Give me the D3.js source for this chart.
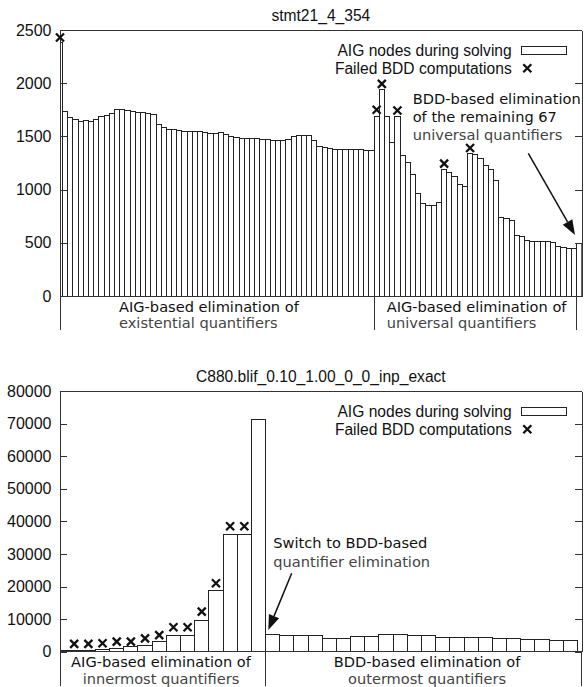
<!DOCTYPE html>
<html><head><meta charset="utf-8">
<script src="https://cdn.jsdelivr.net/npm/d3@7"></script>
<style>
body{margin:0;background:#fff}
svg{display:block}
</style></head><body>
<svg id="chart" width="585" height="687"></svg>
<script>
// ---------------- DATA ----------------
const topTitle = "stmt21_4_354";
const topExistential = [2380,
 1731,1681,1656,1640,1647,1640,1656,1690,1697,1719,
 1750,1750,1741,1734,1728,1722,1719,1706,1609,1581,
 1569,1562,1553,1545,1542,1545,1547,1541,1531,1531,
 1534,1516,1503,1494,1484,1484,1481,1478,1472,1469,
 1466,1463,1463,1475,1503,1509,1513,1506,1459,1403,
 1391,1384,1381,1380,1378,1378,1375,1375,1372,1372];
const topUniversal = [1687,1937,1687,1447,1687,1325,1255,1143,962,865,
 855,848,878,1190,1160,1122,1050,1025,1338,1328,
 1294,1230,1188,1088,736,726,706,572,556,522,
 516,513,513,509,503,463,456,447,445];
const topBdd = [494];
const topFailIdx = [0, 61, 62, 65, 74, 79];
const topFailVal = [2430, 1750, 1994, 1744, 1244, 1391];
const topTicks = [0, 500, 1000, 1500, 2000, 2500];
const topPhaseLabels = [["AIG-based elimination of", "existential quantifiers"],
                        ["AIG-based elimination of", "universal quantifiers"], null];
const topNote = ["BDD-based elimination", "of the remaining 67", "universal quantifiers"];

const botTitle = "C880.blif_0.10_1.00_0_0_inp_exact";
const botInnermost = [300,400,500,700,1000,1500,2000,3000,5100,5100,9700,18900,36100,36100,71300];
const botOutermost = [5200,5100,5100,5100,3900,3900,4800,4800,5400,5400,5000,5000,
                      4300,4300,4400,4400,4100,4100,3600,3600,3300,3300];
const botFailIdx = [1,2,3,4,5,6,7,8,9,10,11,12,13];
const botFailVal = [2400,2400,2600,3100,3100,4100,5100,7500,7500,12300,21000,38500,38500];
const botTicks = [0,10000,20000,30000,40000,50000,60000,70000,80000];
const botPhaseLabels = [["AIG-based elimination of", "innermost quantifiers"],
                        ["BDD-based elimination of", "outermost quantifiers"]];
const botNote = ["Switch to BDD-based", "quantifier elimination"];

const legendLabels = ["AIG nodes during solving", "Failed BDD computations"];

// ---------------- DRAWING ----------------
const svg = d3.select("#chart");
const SANS = "'Liberation Sans', Arial, sans-serif";
const DEJ = "'DejaVu Sans', sans-serif";

function xMark(g, cx, cy, r) {
  g.append("path")
    .attr("d", `M${cx-r},${cy-r}L${cx+r},${cy+r}M${cx-r},${cy+r}L${cx+r},${cy-r}`)
    .attr("stroke", "#111").attr("stroke-width", 2.3).attr("fill", "none");
}

function arrow(g, x1, y1, x2, y2) {
  const dx = x2 - x1, dy = y2 - y1, L = Math.hypot(dx, dy);
  const ux = dx / L, uy = dy / L, hl = 15, hw = 5.5;
  const bx = x2 - ux * hl, by = y2 - uy * hl;
  g.append("line").attr("x1", x1).attr("y1", y1).attr("x2", bx).attr("y2", by)
    .attr("stroke", "#111").attr("stroke-width", 1.5);
  g.append("path")
    .attr("d", `M${x2},${y2}L${bx - uy*hw},${by + ux*hw}L${bx + uy*hw},${by - ux*hw}Z`)
    .attr("fill", "#111");
}

function lines(g, arr, x, y0, dy, anchor, colors) {
  arr.forEach((t, i) => {
    g.append("text").attr("x", x).attr("y", y0 + i * dy)
      .attr("text-anchor", anchor)
      .attr("font-family", DEJ).attr("font-size", 14.6)
      .attr("fill", colors[i]).text(t);
  });
}

function panel(p) {
  const g = svg.append("g");
  const values = p.phases.flatMap(ph => ph);
  const x = d3.scaleLinear().domain([0, p.xMax]).range([p.left, p.right]);
  const y = d3.scaleLinear().domain([0, p.yMax]).range([p.bottom, p.top]);
  const bw = x(1) - x(0);

  svg.append("clipPath").attr("id", "clip" + p.id).append("rect")
    .attr("x", p.left).attr("y", p.top)
    .attr("width", p.right - p.left).attr("height", p.bottom - p.top);

  // bars
  g.append("g").attr("clip-path", `url(#clip${p.id})`)
    .selectAll("rect").data(values).join("rect")
    .attr("x", (d, i) => x(i - 0.5)).attr("width", bw)
    .attr("y", d => y(d)).attr("height", d => y(0) - y(d))
    .attr("fill", "#fff").attr("stroke", "#222").attr("stroke-width", 1)
    .attr("shape-rendering", "crispEdges");

  // axes (ticks inward, mirrored on right)
  const la = g.append("g").attr("transform", `translate(${p.left},0)`)
    .call(d3.axisLeft(y).tickValues(p.ticks).tickFormat(d3.format("d"))
      .tickSizeInner(-7).tickSizeOuter(0).tickPadding(8.5));
  la.selectAll("text").attr("font-family", SANS).attr("font-size", 16).attr("fill", "#111");
  const ra = g.append("g").attr("transform", `translate(${p.right},0)`)
    .call(d3.axisRight(y).tickValues(p.ticks).tickSizeInner(-7).tickSizeOuter(0).tickFormat(""));
  [la, ra].forEach(a => {
    a.selectAll("line,path").attr("stroke", "#333").attr("shape-rendering", "crispEdges");
  });
  g.append("line").attr("x1", p.left).attr("x2", p.right).attr("y1", p.top).attr("y2", p.top)
    .attr("stroke", "#333").attr("shape-rendering", "crispEdges");
  g.append("line").attr("x1", p.left).attr("x2", p.right).attr("y1", p.bottom).attr("y2", p.bottom)
    .attr("stroke", "#333").attr("shape-rendering", "crispEdges");

  // title
  g.append("text").attr("x", (p.left + p.right) / 2).attr("y", p.top - 9.5)
    .attr("text-anchor", "middle").attr("font-family", SANS).attr("font-size", 15.6)
    .attr("fill", "#111").text(p.title);

  // failure markers
  p.failIdx.forEach((fi, k) => xMark(g, x(fi), y(p.failVal[k]), 4));

  // phase dividers and labels
  let start = 0;
  p.phases.forEach((ph, k) => {
    const end = start + ph.length - 1;
    const lab = p.labels[k];
    if (lab) {
      const xs = Math.max(p.left, x(start - 0.5));
      const xe = k === p.phases.length - 1 ? p.right : x(end + 0.5);
      [xs, xe].forEach(xx => {
        g.append("line").attr("x1", xx).attr("x2", xx)
          .attr("y1", p.bottom).attr("y2", p.bottom + p.divLen)
          .attr("stroke", "#333").attr("shape-rendering", "crispEdges");
      });
      const lp = p.labelPos[k];
      lines(g, lab, lp[0], p.bottom + 15.7, 16.6, lp[1], ["#111", "#444"]);
    }
    start = end + 1;
  });

  // legend
  const lx = 511.7, ly = p.top + 25.5;
  legendLabels.forEach((t, i) => {
    g.append("text").attr("x", lx).attr("y", ly + i * 18.3)
      .attr("text-anchor", "end").attr("font-family", SANS).attr("font-size", 15.6)
      .attr("fill", "#111").text(t);
  });
  g.append("rect").attr("x", 521.7).attr("y", p.top + 16.7).attr("width", 44.3).attr("height", 7.3)
    .attr("fill", "#fff").attr("stroke", "#222").attr("shape-rendering", "crispEdges");
  xMark(g, 527.3, p.top + 38.3, 4);

  // annotation
  lines(g, p.note, p.notePos[0], p.notePos[1], 18.4, "start", p.noteColors);
  arrow(g, ...p.arrow);
}

panel({
  id: "top", title: topTitle,
  phases: [topExistential, topUniversal, topBdd], labels: topPhaseLabels,
  xMax: 100.5, yMax: 2500, ticks: topTicks,
  left: 60, right: 581.7, top: 30, bottom: 296, divLen: 34,
  failIdx: topFailIdx, failVal: topFailVal,
  labelPos: [[119, "start"], [386.7, "start"]],
  note: topNote, notePos: [412.7, 103.5], noteColors: ["#111", "#111", "#444"],
  arrow: [528.3, 153.3, 575, 235]
});

panel({
  id: "bot", title: botTitle,
  phases: [botInnermost, botOutermost], labels: botPhaseLabels,
  xMax: 36.8, yMax: 80000, ticks: botTicks,
  left: 60, right: 581.7, top: 391, bottom: 651.7, divLen: 34,
  failIdx: botFailIdx, failVal: botFailVal,
  labelPos: [[161, "middle"], [427, "middle"]],
  note: botNote, notePos: [273.3, 548.3], noteColors: ["#111", "#444"],
  arrow: [291.7, 573.3, 268.3, 630]
});
</script>
</body></html>
